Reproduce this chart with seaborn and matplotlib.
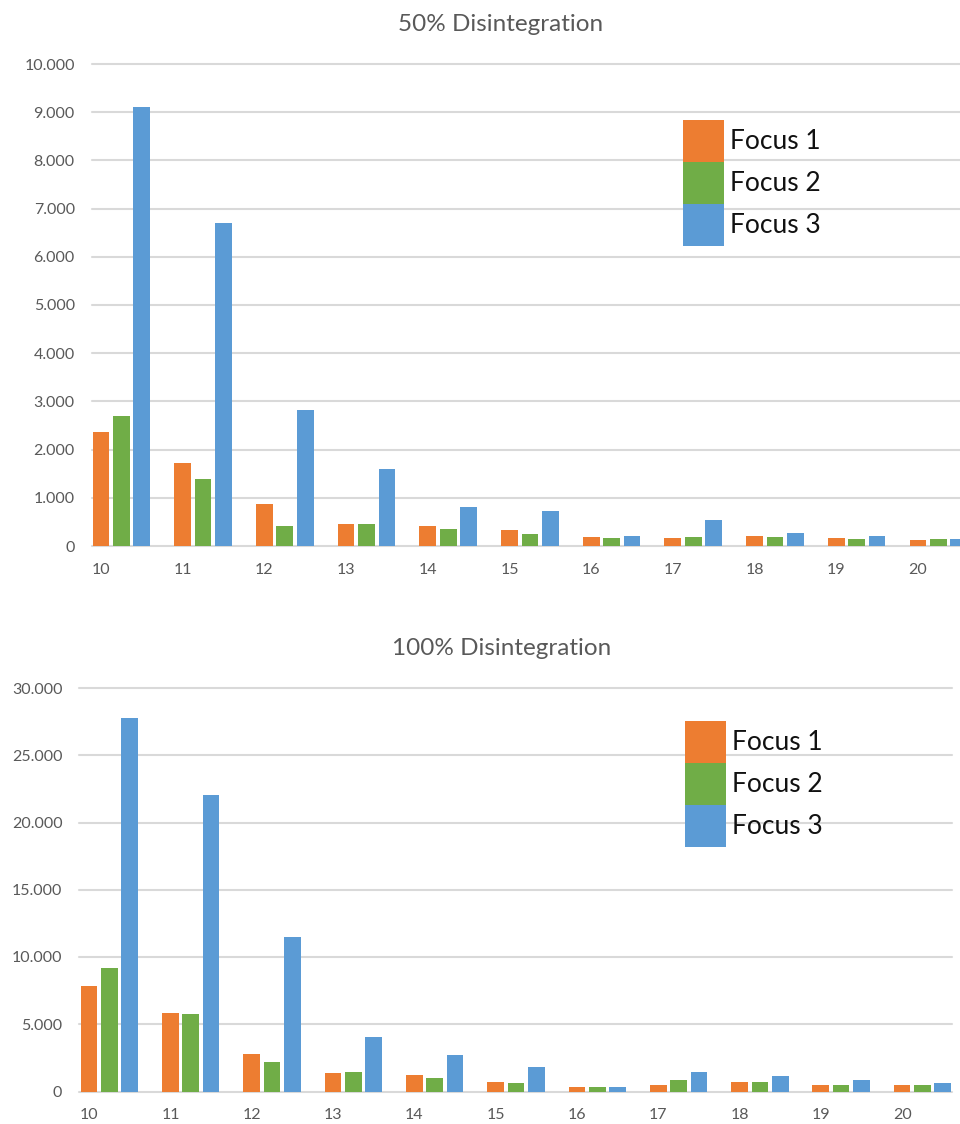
import numpy as np
import pandas as pd
import matplotlib
matplotlib.use("Agg")
import matplotlib.pyplot as plt
from matplotlib.patches import Patch
from matplotlib.ticker import FuncFormatter, MultipleLocator
import seaborn as sns

# Category labels (x axis)
categories = ["10", "11", "12", "13", "14", "15", "16", "17", "18", "19", "20"]
series_names = ["Focus 1", "Focus 2", "Focus 3"]

# 50% disintegration
half_focus1 = [2370, 1720, 880, 460, 420, 340, 180, 160, 200, 160, 120]
half_focus2 = [2700, 1380, 420, 460, 350, 240, 160, 180, 180, 140, 140]
half_focus3 = [9110, 6700, 2820, 1590, 800, 720, 200, 540, 280, 200, 140]

# 100% disintegration
full_focus1 = [7840, 5860, 2810, 1340, 1190, 670, 300, 520, 740, 450, 520]
full_focus2 = [9180, 5730, 2230, 1470, 1040, 600, 370, 820, 670, 450, 450]
full_focus3 = [27800, 22080, 11510, 4020, 2680, 1790, 370, 1440, 1160, 820, 600]

palette = {"Focus 1": "#ED7D31", "Focus 2": "#70AD47", "Focus 3": "#5B9BD5"}
GRID = "#D9D9D9"
TEXT = "#595959"
FONT = "Lato"

sns.set_theme(style="white")
plt.rcParams["font.family"] = [FONT, "DejaVu Sans"]


def long_frame(s1, s2, s3):
    rows = []
    for name, vals in zip(series_names, (s1, s2, s3)):
        for cat, v in zip(categories, vals):
            rows.append({"category": cat, "series": name, "value": v})
    return pd.DataFrame(rows)


def thousands(v, _pos):
    if abs(v) < 1e-9:
        return "0"
    return f"{v:,.0f}".replace(",", ".")


def draw_panel(ax, df, ymax, step, xlim):
    sns.barplot(data=df, x="category", y="value", hue="series",
                order=categories, hue_order=series_names, palette=palette,
                saturation=1, width=0.75, gap=0.18, linewidth=0,
                errorbar=None, legend=False, ax=ax, zorder=3)
    ax.set_ylim(0, ymax)
    ax.set_xlim(*xlim)
    ax.yaxis.set_major_locator(MultipleLocator(step))
    ax.yaxis.set_major_formatter(FuncFormatter(thousands))
    for y in np.arange(0, ymax + step / 2, step):
        ax.axhline(y, color=GRID, lw=1.5, zorder=1, clip_on=False)
    ax.set_xticks(np.arange(len(categories)) - 0.25)
    ax.set_xticklabels(categories)
    ax.tick_params(axis="both", length=0, colors=TEXT, labelsize=11.5, pad=12)
    ax.set_xlabel("")
    ax.set_ylabel("")
    for sp in ax.spines.values():
        sp.set_visible(False)
    handles = [Patch(facecolor=palette[n], edgecolor="none", label=n) for n in series_names]
    return handles


fig = plt.figure(figsize=(9.6, 11.24), dpi=100)
W, H = 960, 1124


def axes_px(left, top, right, bottom):
    return fig.add_axes([left / W, 1 - bottom / H, (right - left) / W, (bottom - top) / H])


ax1 = axes_px(91.5, 64, 960, 546)
h1 = draw_panel(ax1, long_frame(half_focus1, half_focus2, half_focus3), 10000, 1000, (-0.366, 10.265))
ax2 = axes_px(79, 688, 951.7, 1091.5)
h2 = draw_panel(ax2, long_frame(full_focus1, full_focus2, full_focus3), 30000, 5000, (-0.375, 10.36))

for ax, h, anchor in ((ax1, h1, (683 / W, 1 - 120 / H)), (ax2, h2, (685 / W, 1 - 721 / H))):
    ax.legend(handles=h, loc="upper left", bbox_to_anchor=anchor,
              bbox_transform=fig.transFigure, frameon=False, fontsize=19,
              handlelength=1.55, handleheight=2.07, labelspacing=0,
              handletextpad=0.23, borderpad=0, borderaxespad=0,
              labelcolor="#111111")

fig.text(501 / W, 1 - 31 / H, "50% Disintegration", ha="center", va="baseline",
         fontsize=17.5, color=TEXT)
fig.text(502 / W, 1 - 655 / H, "100% Disintegration", ha="center", va="baseline",
         fontsize=17.5, color=TEXT)

fig.savefig("out.png", dpi=100)
